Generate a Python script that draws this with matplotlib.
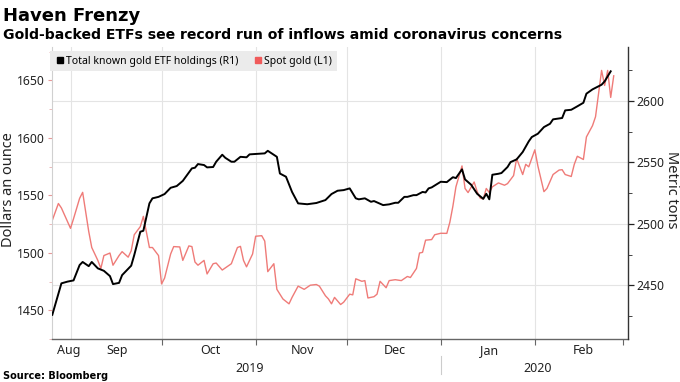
import matplotlib
matplotlib.use('Agg')
import matplotlib.pyplot as plt
import matplotlib.dates as mdates
from matplotlib.lines import Line2D
from matplotlib.transforms import blended_transform_factory
import numpy as np

# ---------------- data ----------------
etf_dates = [
    "2019-08-26", "2019-08-29", "2019-08-31", "2019-09-02", "2019-09-04", "2019-09-05",
    "2019-09-07", "2019-09-08", "2019-09-10", "2019-09-12", "2019-09-14", "2019-09-15",
    "2019-09-17", "2019-09-18", "2019-09-21", "2019-09-22", "2019-09-24", "2019-09-25",
    "2019-09-27", "2019-09-28", "2019-09-30", "2019-10-02", "2019-10-04", "2019-10-06",
    "2019-10-08", "2019-10-11", "2019-10-12", "2019-10-13", "2019-10-15", "2019-10-16",
    "2019-10-18", "2019-10-19", "2019-10-21", "2019-10-22", "2019-10-24", "2019-10-25",
    "2019-10-27", "2019-10-29", "2019-10-30", "2019-11-04", "2019-11-05", "2019-11-08",
    "2019-11-09", "2019-11-11", "2019-11-13", "2019-11-15", "2019-11-18", "2019-11-21",
    "2019-11-24", "2019-11-26", "2019-11-28", "2019-11-30", "2019-12-02", "2019-12-04",
    "2019-12-05", "2019-12-07", "2019-12-09", "2019-12-10", "2019-12-13", "2019-12-15",
    "2019-12-17", "2019-12-18", "2019-12-20", "2019-12-21", "2019-12-23", "2019-12-24",
    "2019-12-26", "2019-12-27", "2019-12-28", "2019-12-29", "2020-01-01", "2020-01-03",
    "2020-01-05", "2020-01-06", "2020-01-08", "2020-01-09", "2020-01-11", "2020-01-13",
    "2020-01-15", "2020-01-16", "2020-01-17", "2020-01-18", "2020-01-20", "2020-01-21",
    "2020-01-23", "2020-01-24", "2020-01-26", "2020-01-28", "2020-01-30", "2020-01-31",
    "2020-02-02", "2020-02-04", "2020-02-06", "2020-02-07", "2020-02-10", "2020-02-11",
    "2020-02-13", "2020-02-15", "2020-02-17", "2020-02-18", "2020-02-20", "2020-02-23",
    "2020-02-24", "2020-02-26",
]
etf_tons = [
    2426.0, 2451.6, 2453.0, 2454.0, 2466.5, 2469.0,
    2465.6, 2469.0, 2463.8, 2461.8, 2457.5, 2451.0,
    2452.0, 2458.3, 2466.0, 2474.6, 2493.6, 2494.4,
    2516.7, 2520.8, 2522.0, 2524.3, 2529.4, 2530.8,
    2535.0, 2545.2, 2545.7, 2548.7, 2547.9, 2546.0,
    2546.3, 2550.6, 2556.3, 2553.8, 2550.6, 2550.6,
    2554.6, 2554.2, 2556.6, 2557.4, 2559.5, 2554.6,
    2541.0, 2538.4, 2526.0, 2516.7, 2516.0, 2517.0,
    2519.4, 2524.3, 2527.0, 2527.5, 2528.9, 2520.8,
    2520.0, 2520.8, 2518.0, 2518.6, 2515.3, 2515.9,
    2517.2, 2517.2, 2522.0, 2522.0, 2523.4, 2523.4,
    2526.0, 2525.6, 2528.9, 2529.7, 2534.3, 2534.0,
    2538.0, 2537.3, 2544.4, 2536.2, 2531.9, 2524.5,
    2520.4, 2524.5, 2520.0, 2540.0, 2540.8, 2541.4,
    2546.3, 2550.3, 2552.5, 2558.5, 2567.2, 2570.7,
    2573.4, 2578.8, 2581.5, 2585.1, 2586.2, 2592.4,
    2592.9, 2595.7, 2598.6, 2606.0, 2609.5, 2613.3,
    2616.0, 2624.2,
]

gold_dates = [
    "2019-08-26", "2019-08-28", "2019-08-29", "2019-09-01", "2019-09-02", "2019-09-04",
    "2019-09-05", "2019-09-07", "2019-09-08", "2019-09-10", "2019-09-11", "2019-09-12",
    "2019-09-14", "2019-09-15", "2019-09-17", "2019-09-18", "2019-09-20", "2019-09-21",
    "2019-09-22", "2019-09-24", "2019-09-25", "2019-09-27", "2019-09-28", "2019-09-30",
    "2019-10-01", "2019-10-02", "2019-10-04", "2019-10-05", "2019-10-07", "2019-10-08",
    "2019-10-10", "2019-10-11", "2019-10-12", "2019-10-13", "2019-10-15", "2019-10-16",
    "2019-10-18", "2019-10-19", "2019-10-21", "2019-10-24", "2019-10-26", "2019-10-27",
    "2019-10-28", "2019-10-29", "2019-10-31", "2019-11-01", "2019-11-03", "2019-11-04",
    "2019-11-05", "2019-11-07", "2019-11-08", "2019-11-10", "2019-11-12", "2019-11-13",
    "2019-11-15", "2019-11-17", "2019-11-19", "2019-11-21", "2019-11-22", "2019-11-24",
    "2019-11-25", "2019-11-26", "2019-11-27", "2019-11-29", "2019-11-30", "2019-12-02",
    "2019-12-03", "2019-12-04", "2019-12-06", "2019-12-07", "2019-12-08", "2019-12-10",
    "2019-12-11", "2019-12-12", "2019-12-14", "2019-12-15", "2019-12-17", "2019-12-19",
    "2019-12-21", "2019-12-22", "2019-12-24", "2019-12-25", "2019-12-26", "2019-12-27",
    "2019-12-29", "2019-12-30", "2020-01-01", "2020-01-03", "2020-01-04", "2020-01-05",
    "2020-01-06", "2020-01-08", "2020-01-09", "2020-01-10", "2020-01-12", "2020-01-13",
    "2020-01-14", "2020-01-15", "2020-01-16", "2020-01-17", "2020-01-18", "2020-01-20",
    "2020-01-22", "2020-01-23", "2020-01-25", "2020-01-26", "2020-01-28", "2020-01-29",
    "2020-01-30", "2020-02-01", "2020-02-02", "2020-02-04", "2020-02-05", "2020-02-07",
    "2020-02-09", "2020-02-10", "2020-02-11", "2020-02-13", "2020-02-14", "2020-02-15",
    "2020-02-17", "2020-02-18", "2020-02-20", "2020-02-21", "2020-02-23", "2020-02-24",
    "2020-02-25", "2020-02-26", "2020-02-27",
]
gold_price = [
    1528.3, 1542.9, 1539.0, 1521.3, 1529.7, 1547.4,
    1552.6, 1518.6, 1504.6, 1493.4, 1486.4, 1497.6,
    1499.8, 1489.2, 1497.6, 1501.0, 1496.2, 1501.8,
    1515.7, 1522.8, 1531.7, 1504.6, 1504.6, 1497.6,
    1472.9, 1478.0, 1499.0, 1505.4, 1505.1, 1493.4,
    1506.0, 1505.4, 1492.0, 1489.2, 1493.4, 1481.6,
    1490.5, 1491.1, 1485.0, 1490.5, 1504.6, 1505.6,
    1493.4, 1487.8, 1499.0, 1514.4, 1514.9, 1510.2,
    1483.6, 1490.5, 1468.2, 1459.8, 1455.6, 1461.2,
    1471.0, 1468.2, 1471.8, 1472.4, 1471.0, 1462.6,
    1459.8, 1455.6, 1461.2, 1455.0, 1457.0, 1464.0,
    1463.4, 1477.4, 1475.2, 1475.8, 1460.7, 1461.8,
    1464.0, 1475.2, 1469.6, 1475.8, 1476.6, 1475.8,
    1479.4, 1478.5, 1486.4, 1499.8, 1500.4, 1511.0,
    1511.5, 1515.7, 1517.0, 1516.9, 1526.6, 1540.6,
    1557.4, 1575.6, 1556.0, 1552.4, 1561.6, 1553.2,
    1547.6, 1546.8, 1556.0, 1552.4, 1557.4, 1560.8,
    1558.8, 1560.2, 1567.2, 1582.0, 1568.1, 1577.0,
    1574.8, 1589.6, 1575.6, 1553.2, 1556.0, 1568.1,
    1572.0, 1572.3, 1568.1, 1566.4, 1577.0, 1584.0,
    1581.2, 1600.8, 1610.6, 1618.4, 1658.7, 1645.6,
    1658.7, 1635.2, 1654.0,
]

month_starts = ["2019-09-01", "2019-10-01", "2019-11-01", "2019-12-01",
                "2020-01-01", "2020-02-01", "2020-03-01"]
month_labels = ["Aug", "Sep", "Oct", "Nov", "Dec", "Jan", "Feb"]
year_labels = ["2019", "2020"]
year_break = "2020-01-01"
left_ticks = [1450, 1500, 1550, 1600, 1650]
right_ticks = [2450, 2500, 2550, 2600]

# ---------------- figure ----------------
W, H = 680, 382
fig = plt.figure(figsize=(W / 100, H / 100), dpi=100)
fig.patch.set_facecolor('white')

ax_l, ax_r, ax_t, ax_b = 52, 628, 46.5, 339
ax = fig.add_axes([ax_l / W, 1 - ax_b / H, (ax_r - ax_l) / W, (ax_b - ax_t) / H])
ax2 = ax.twinx()

TICK_FONT = 'Noto Sans'

gx = mdates.datestr2num(gold_dates)
ex = mdates.datestr2num(etf_dates)
ms = mdates.datestr2num(month_starts)

x0 = mdates.datestr2num("2019-08-26") - 0.1
x1 = mdates.datestr2num("2020-03-02") + 0.7
ax.set_xlim(x0, x1)

ax.set_ylim(1434.05, 1679.5)
ax2.set_ylim(2406.3, 2644.4)

# grid lines (drawn in bottom axes so they stay behind both lines)
ytrans = blended_transform_factory(ax.transAxes, ax2.transData)
for t in right_ticks:
    ax.plot([0, 1], [t, t], transform=ytrans, color='#e4e4e4', lw=0.8, zorder=0)
for m in ms[:-1]:
    ax.axvline(m, color='#e4e4e4', lw=0.8, zorder=0)

ax.plot(gx, gold_price, color='#ef7b78', lw=1.0, zorder=2)
ax2.plot(ex, etf_tons, color='black', lw=1.4, zorder=3)

# y axes
ax.set_yticks(left_ticks)
ax.set_yticks(np.arange(1425, 1680, 50), minor=True)
ax.tick_params(axis='y', which='major', direction='out', length=3, width=0.8,
               color='#e69a9a', labelcolor='#222222', labelsize=8.8, pad=2)
ax.tick_params(axis='y', which='minor', direction='out', length=2, width=0.6,
               color='#e6b0b0')
ax2.set_yticks(right_ticks)
ax2.set_yticks(np.arange(2425, 2650, 50), minor=True)
ax2.tick_params(axis='y', which='major', direction='out', length=4, width=0.9,
                color='#222222', labelcolor='#222222', labelsize=8.8, pad=2)
ax2.tick_params(axis='y', which='minor', direction='out', length=3, width=0.7,
                color='#444444')
for lab in ax.get_yticklabels() + ax2.get_yticklabels():
    lab.set_family(TICK_FONT)

# x axis: ticks at month boundaries, labels centered on month spans
ax.set_xticks(ms[1:])
ax.set_xticklabels([])
ax.tick_params(axis='x', which='major', direction='out', length=4, width=0.8,
               color='#666666')
bounds = np.concatenate([[x0], ms[:-1], [x1]])[:len(month_labels) + 1]
xt = blended_transform_factory(ax.transData, ax.transAxes)
for i, lab in enumerate(month_labels):
    a, b = bounds[i], bounds[i + 1]
    pos = max((a + b) / 2 + 0.5, x0 + 5.5)
    ax.text(pos, -0.038, lab, transform=xt, ha='center', va='center',
            fontsize=9, family=TICK_FONT, color='#222222', clip_on=False)
yb = mdates.datestr2num(year_break)
for lab, (a, b) in zip(year_labels, [(x0, yb), (yb, x1)]):
    ax.text((a + b) / 2 + 1, -0.102, lab, transform=xt, ha='center', va='center',
            fontsize=9, family=TICK_FONT, color='#222222', clip_on=False)
ax.plot([yb, yb], [-0.058, -0.12], transform=xt, color='#cccccc', lw=0.8,
        clip_on=False)

# spines
for s in ['top', 'right']:
    ax.spines[s].set_visible(False)
ax.spines['left'].set_color('#d0d0d0')
ax.spines['left'].set_linewidth(0.8)
ax.spines['bottom'].set_color('#666666')
ax.spines['bottom'].set_linewidth(1.0)
for s in ['top', 'left', 'bottom']:
    ax2.spines[s].set_visible(False)
ax2.spines['right'].set_color('#333333')
ax2.spines['right'].set_linewidth(1.0)

# legend
handles = [Line2D([], [], marker='s', ls='none', color='black', markersize=5),
           Line2D([], [], marker='s', ls='none', color='#f05a5a', markersize=5)]
leg = ax2.legend(handles, ["Total known gold ETF holdings (R1)", "Spot gold (L1)"],
                 loc='upper left', bbox_to_anchor=(-0.004, 0.985), ncol=2,
                 frameon=True, fancybox=False, framealpha=1, borderaxespad=0,
                 handletextpad=0.1, columnspacing=1.4, handlelength=1.0,
                 borderpad=0.45, prop={'family': TICK_FONT, 'size': 7.5})
leg.get_frame().set_facecolor('#ebebeb')
leg.get_frame().set_edgecolor('none')

# axis titles
fig.text(9 / W, 1 - 190 / H, 'Dollars an ounce', rotation=90, ha='center',
         va='center', fontsize=10.5, family=TICK_FONT, color='#222222')
fig.text(671 / W, 1 - 190 / H, 'Metric tons', rotation=270, ha='center',
         va='center', fontsize=10.5, family=TICK_FONT, color='#222222')

# titles and source
fig.text(3 / W, 1 - 21 / H, 'Haven Frenzy', fontsize=13, fontweight='bold',
         family='DejaVu Sans', ha='left', va='baseline', color='black')
fig.text(3 / W, 1 - 39 / H,
         'Gold-backed ETFs see record run of inflows amid coronavirus concerns',
         fontsize=10.1, fontweight='bold', family='DejaVu Sans', ha='left',
         va='baseline', color='black')
fig.text(3 / W, 1 - 376 / H, 'Source: Bloomberg', fontsize=7, fontweight='bold',
         family='DejaVu Sans', ha='left', va='center', color='black')

fig.savefig('out.png', dpi=100, facecolor='white')
